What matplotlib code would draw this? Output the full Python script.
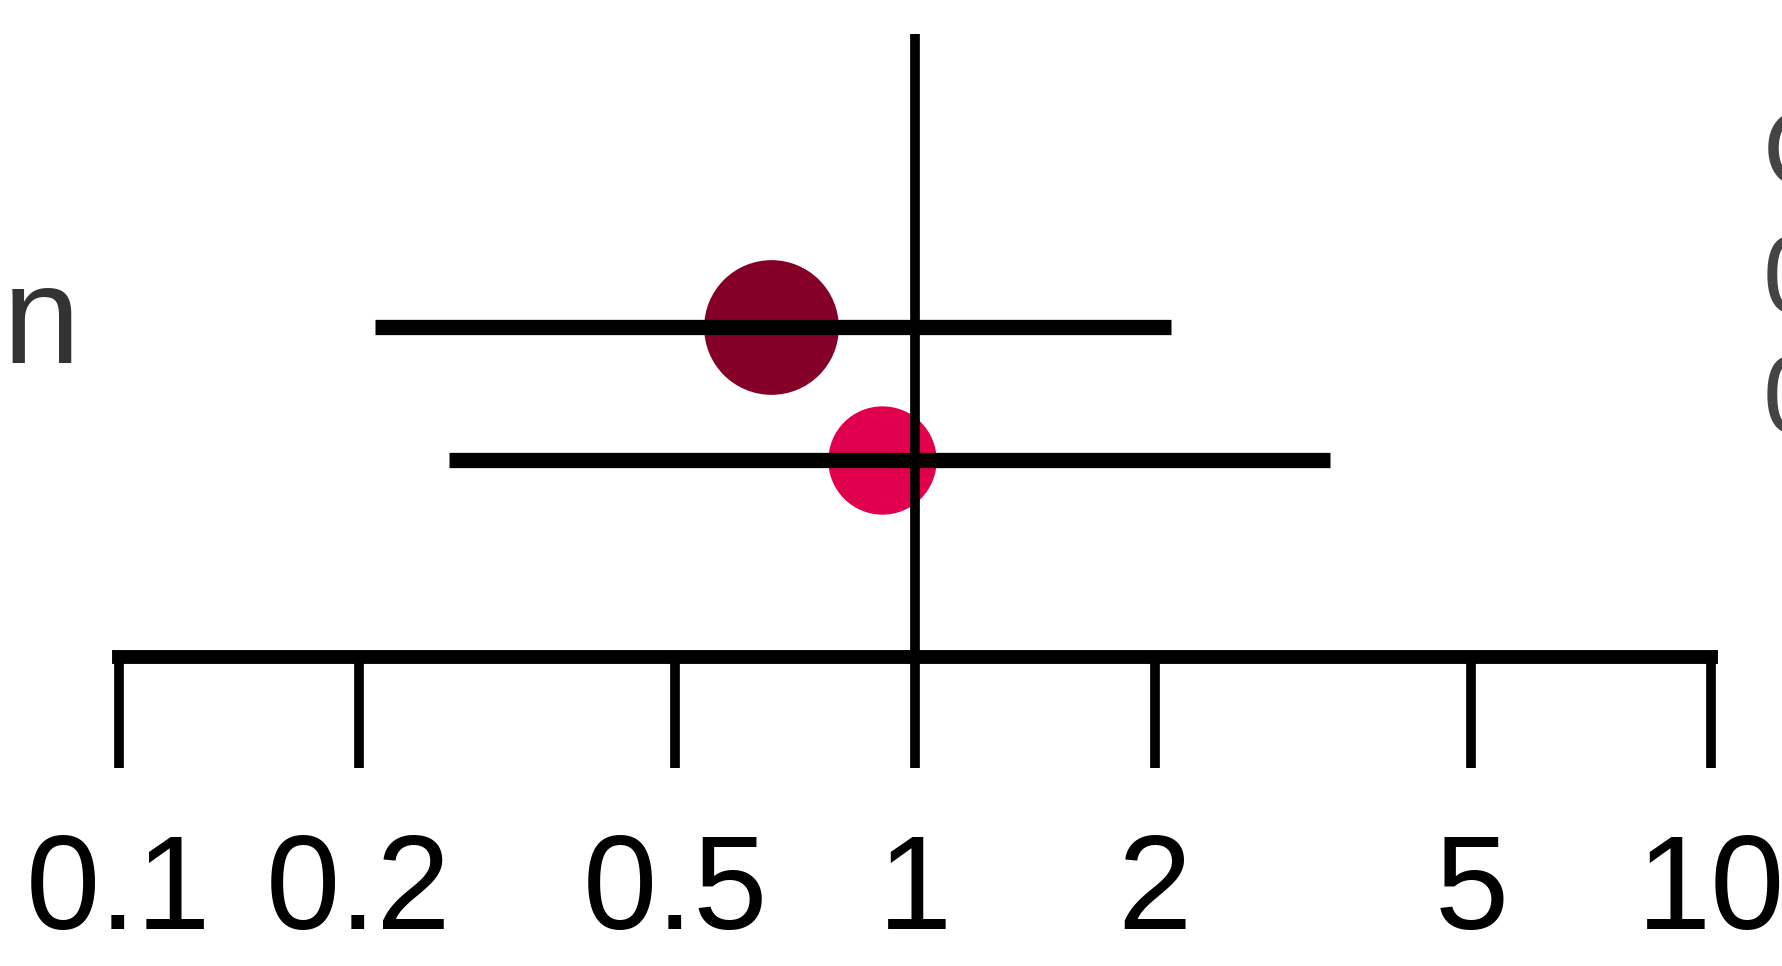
import matplotlib.pyplot as plt
from matplotlib.transforms import blended_transform_factory

# forest plot values
rows = [1, 2]
est = [0.66, 0.91]
lower = [0.21, 0.26]
upper = [2.10, 3.32]
dot_colors = ['#850028', '#e0004e']
dot_sizes = [97, 78]

left_labels = ['n']
right_labels = ['OR [95% CI]', '0.66 [0.21, 2.10]', '0.91 [0.26, 3.32]']
right_y = [-0.27, 0.68, 1.58]

tick_vals = [0.1, 0.2, 0.5, 1, 2, 5, 10]
tick_labels = ['0.1', '0.2', '0.5', '1', '2', '5', '10']

plt.rcParams['font.family'] = ['Liberation Sans', 'DejaVu Sans']

fig = plt.figure(figsize=(17.82, 9.66), dpi=100)
ax = fig.add_axes([0, 0, 1, 1])
ax.set_xscale('log')
ax.set_xlim(0.0709, 12.28)
ax.set_ylim(5.805, -1.459)

for y, e, c, s in zip(rows, est, dot_colors, dot_sizes):
    ax.plot(e, y, 'o', ms=s, color=c, mec='none', zorder=2)
ax.hlines(rows, lower, upper, color='black', lw=11, zorder=3)
ax.vlines(1, -1.2, 3.48, color='black', lw=7, zorder=3)

for s in ['top', 'right', 'left']:
    ax.spines[s].set_visible(False)
ax.spines['bottom'].set_position(('data', 3.48))
ax.spines['bottom'].set_bounds(0.1, 10)
ax.spines['bottom'].set_linewidth(10)
ax.set_yticks([])
ax.set_xticks(tick_vals, tick_labels)
ax.minorticks_off()
ax.tick_params(axis='x', direction='out', length=80, width=7, pad=46,
               labelsize=96)

tr = blended_transform_factory(ax.transAxes, ax.transData)
ax.text(0.045, rows[0], left_labels[0], transform=tr, ha='right', va='center',
        fontsize=100, color='#333333')
for y, t in zip(right_y, right_labels):
    ax.text(0.9893, y, t, transform=tr, ha='left', va='center',
            fontsize=80, color='#444444')

fig.savefig('out.png', dpi=100)
